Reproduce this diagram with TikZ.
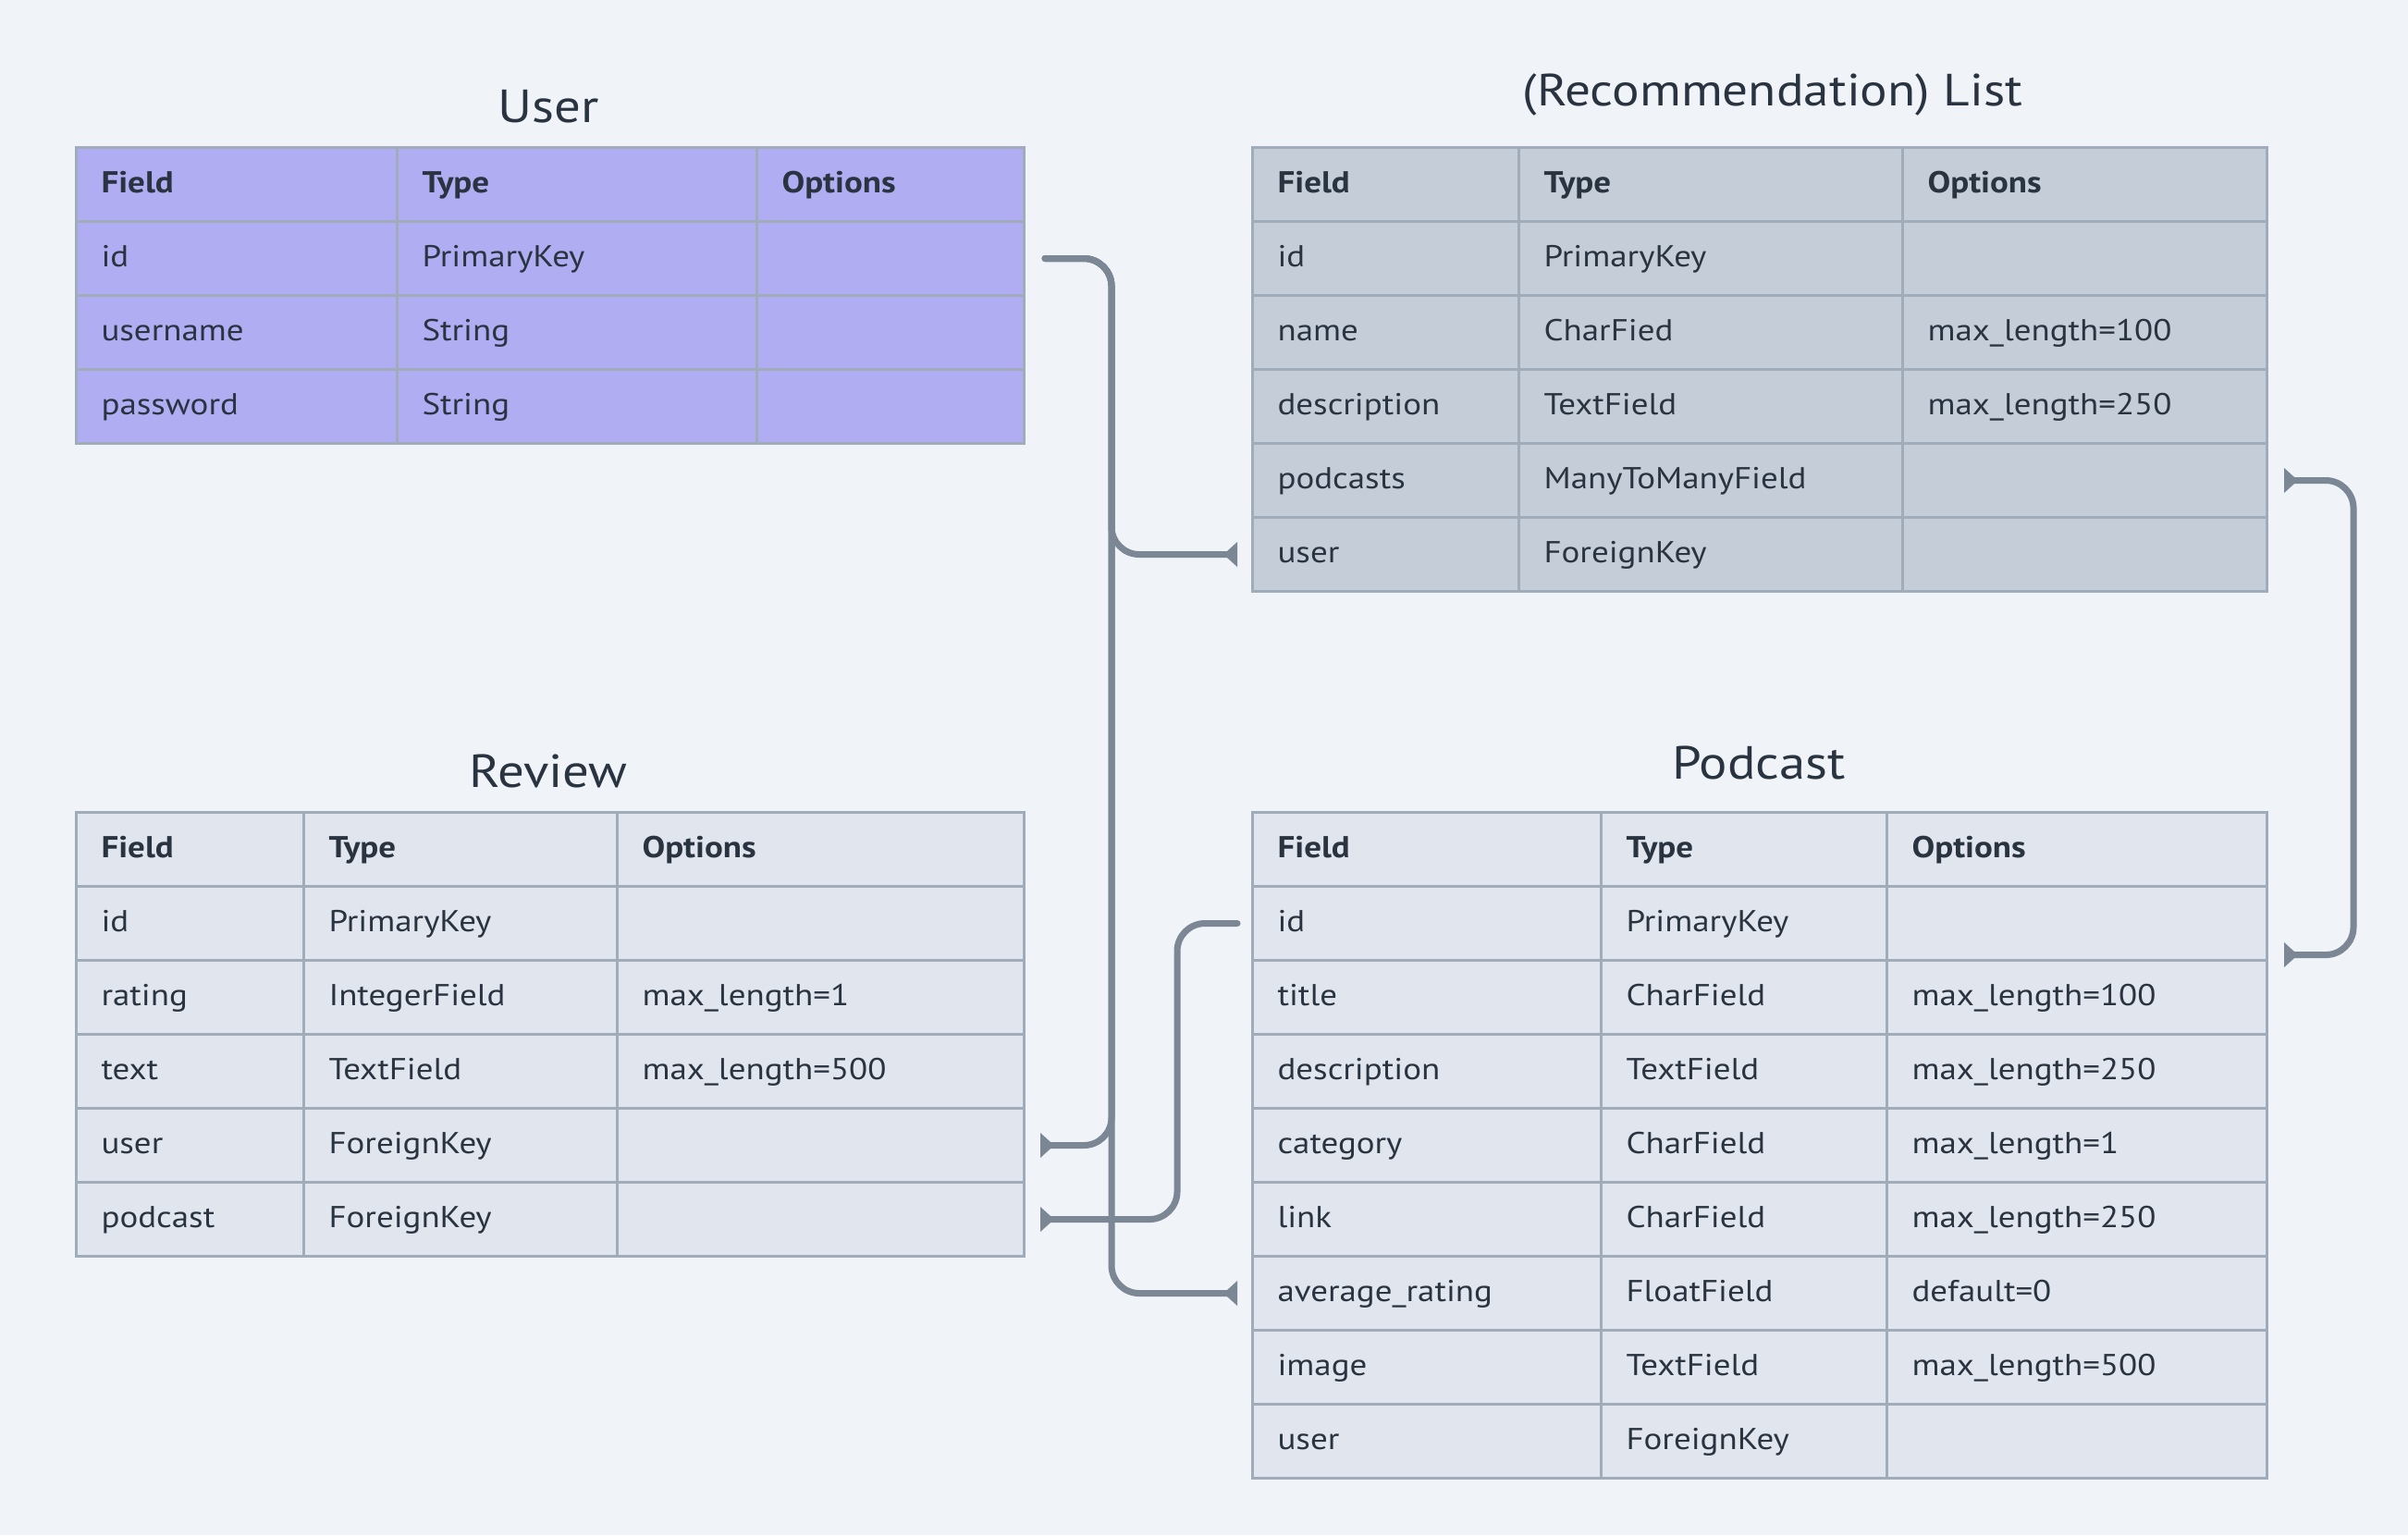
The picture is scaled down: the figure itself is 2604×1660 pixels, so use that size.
\documentclass[tikz,border=0pt]{standalone}
\usepackage{fontspec}
\setmainfont[FakeStretch=1.13]{PT Sans}
\usetikzlibrary{arrows.meta}
\definecolor{bgc}{HTML}{F0F4F8}
\definecolor{userc}{HTML}{B0ADF2}
\definecolor{listc}{HTML}{C5CED8}
\definecolor{cellc}{HTML}{E1E6EE}
\definecolor{bordc}{HTML}{A0ACB9}
\definecolor{connc}{HTML}{7B8794}
\definecolor{txtc}{HTML}{2A3441}
\newcommand{\setcols}[4]{\def\cxA{#1}\def\cxB{#2}\def\cxC{#3}%
 \pgfmathsetmacro\cwA{(#2-#1)*0.01-0.54}%
 \pgfmathsetmacro\cwB{(#3-#2)*0.01-0.54}%
 \pgfmathsetmacro\cwC{(#4-#3)*0.01-0.54}}
\newcommand{\trow}[6]{%
 \node[cell,#3,text width=\cwA cm] (#1-f) at (\cxA,#2) {#4};
 \node[cell,#3,text width=\cwB cm] (#1-t) at (\cxB,#2) {#5};
 \node[cell,#3,text width=\cwC cm] (#1-o) at (\cxC,#2) {#6};}
\tikzset{
 cell/.style={draw=bordc, line width=0.03cm, anchor=north west, minimum height=0.8cm,
   inner xsep=0.27cm, inner ysep=0pt, align=left, text height=0.7em, text depth=0.18em,
   font=\fontsize{9.3}{10}\selectfont, text=txtc},
 hdr/.style={font=\fontsize{9.3}{10}\selectfont\bfseries},
 ttl/.style={font=\fontsize{14.3}{16}\selectfont, text=txtc, text height=0.7em, text depth=0pt, inner sep=0pt},
 conn/.style={draw=connc, line width=0.07cm, rounded corners=0.3cm, line cap=round},
 Tri/.tip={Triangle[reversed,length=0.15cm,width=0.26cm]}
}
\begin{document}
\begin{tikzpicture}[x=0.01cm,y=-0.01cm]
\useasboundingbox (0,0) rectangle (2604,1660);
\fill[bgc] (0,0) rectangle (2604,1660);
% User
\node[ttl] (t-user) at (593,120) {User};
\setcols{81}{428}{817}{1106}
\trow{u-h}{158}{hdr,fill=userc}{Field}{Type}{Options}
\trow{u-id}{238}{fill=userc}{id}{PrimaryKey}{}
\trow{u-un}{318}{fill=userc}{username}{String}{}
\trow{u-pw}{398}{fill=userc}{password}{String}{}
% List
\node[ttl,font=\fontsize{13.9}{16}\selectfont] (t-list) at (1917,102) {(Recommendation) List};
\setcols{1353}{1641}{2056}{2450}
\trow{l-h}{158}{hdr,fill=listc}{Field}{Type}{Options}
\trow{l-id}{238}{fill=listc}{id}{PrimaryKey}{}
\trow{l-name}{318}{fill=listc}{name}{CharFied}{max\_length=100}
\trow{l-desc}{398}{fill=listc}{description}{TextField}{max\_length=250}
\trow{l-pod}{478}{fill=listc}{podcasts}{ManyToManyField}{}
\trow{l-user}{558}{fill=listc}{user}{ForeignKey}{}
% Review
\node[ttl] (t-review) at (593,839) {Review};
\setcols{81}{327}{666}{1106}
\trow{r-h}{877}{hdr,fill=cellc}{Field}{Type}{Options}
\trow{r-id}{957}{fill=cellc}{id}{PrimaryKey}{}
\trow{r-rat}{1037}{fill=cellc}{rating}{IntegerField}{max\_length=1}
\trow{r-text}{1117}{fill=cellc}{text}{TextField}{max\_length=500}
\trow{r-user}{1197}{fill=cellc}{user}{ForeignKey}{}
\trow{r-pod}{1277}{fill=cellc}{podcast}{ForeignKey}{}
% Podcast
\node[ttl] (t-podcast) at (1902,830) {Podcast};
\setcols{1353}{1730}{2039}{2450}
\trow{p-h}{877}{hdr,fill=cellc}{Field}{Type}{Options}
\trow{p-id}{957}{fill=cellc}{id}{PrimaryKey}{}
\trow{p-title}{1037}{fill=cellc}{title}{CharField}{max\_length=100}
\trow{p-desc}{1117}{fill=cellc}{description}{TextField}{max\_length=250}
\trow{p-cat}{1197}{fill=cellc}{category}{CharField}{max\_length=1}
\trow{p-link}{1277}{fill=cellc}{link}{CharField}{max\_length=250}
\trow{p-avg}{1357}{fill=cellc}{average\_rating}{FloatField}{default=0}
\trow{p-img}{1437}{fill=cellc}{image}{TextField}{max\_length=500}
\trow{p-user}{1517}{fill=cellc}{user}{ForeignKey}{}
% connector anchors
\coordinate (trunkA) at (1202,700);
\coordinate (trunkB) at (1273,1100);
\coordinate (trunkC) at (2545,700);
\coordinate (uidE) at ([xshift=0.21cm]u-id-o.east);
\coordinate (luserW) at ([xshift=-0.15cm]l-user-f.west);
\coordinate (ruserE) at ([xshift=0.16cm]r-user-o.east);
\coordinate (pavgW) at ([xshift=-0.15cm]p-avg-f.west);
\coordinate (pidW) at ([xshift=-0.15cm]p-id-f.west);
\coordinate (rpodE) at ([xshift=0.16cm]r-pod-o.east);
\coordinate (lpodE) at ([xshift=0.17cm]l-pod-o.east);
\coordinate (pidE) at ([xshift=0.17cm,yshift=-0.34cm]p-id-o.east);
% connectors
\draw[conn,-{Tri}] (uidE) -- (uidE -| trunkA) -- (trunkA |- luserW) -- (luserW);
\draw[conn,-{Tri}] (uidE) -- (uidE -| trunkA) -- (trunkA |- ruserE) -- (ruserE);
\draw[conn,-{Tri}] (uidE) -- (uidE -| trunkA) -- (trunkA |- pavgW) -- (pavgW);
\draw[conn,-{Tri}] (pidW) -- (pidW -| trunkB) -- (trunkB |- rpodE) -- (rpodE);
\draw[conn,{Tri}-{Tri}] (lpodE) -- (lpodE -| trunkC) -- (trunkC |- pidE) -- (pidE);
\end{tikzpicture}
\end{document}
